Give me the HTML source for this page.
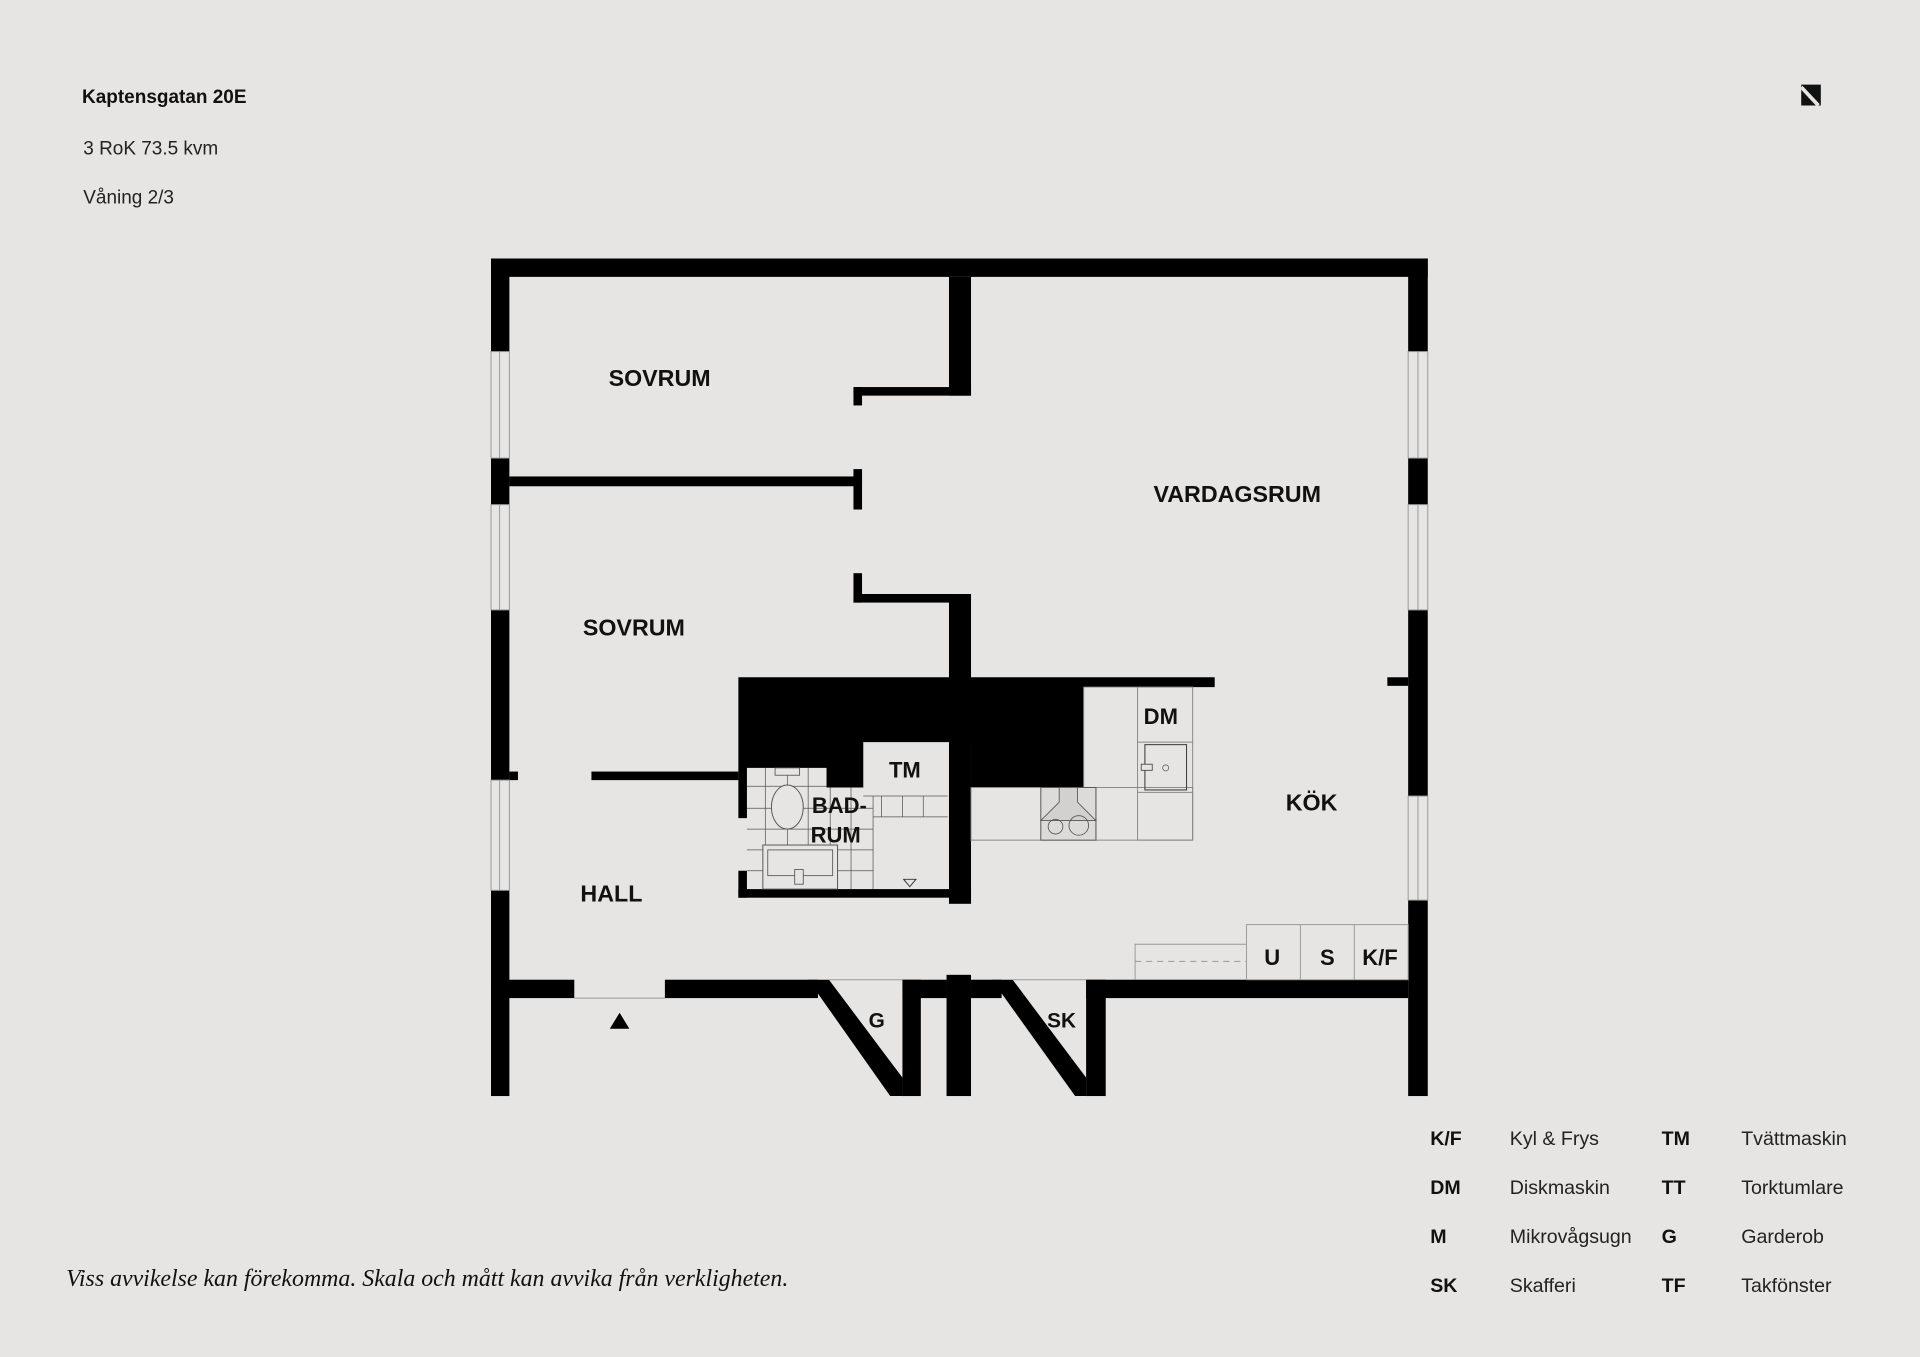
<!DOCTYPE html>
<html><head><meta charset="utf-8">
<style>
html,body{margin:0;padding:0;background:#e6e5e3;}
svg{display:block;}
.h{font-family:"Liberation Sans",sans-serif;font-weight:bold;fill:#111;}
.r{font-family:"Liberation Sans",sans-serif;fill:#222;}
</style></head>
<body>
<svg width="1920" height="1357" viewBox="0 0 1568 1108" xmlns="http://www.w3.org/2000/svg">
<rect width="1568" height="1108" fill="#e6e5e3"/>
<text x="67" y="84" class="h" font-size="15.5">Kaptensgatan 20E</text>
<text x="68" y="126" class="r" font-size="15.5">3 RoK 73.5 kvm</text>
<text x="68" y="166" class="r" font-size="15.5">Våning 2/3</text>
<!-- logo -->
<polygon points="1471,69 1487,69 1487,86" fill="#111"/>
<polygon points="1471,69 1471,86 1487,86" fill="#111"/>
<line x1="1471" y1="71" x2="1485" y2="86" stroke="#e6e5e3" stroke-width="3"/>

<g fill="#000">
<!-- outer walls -->
<rect x="401" y="211" width="765" height="15"/>
<rect x="401" y="211" width="15" height="684"/>
<rect x="1150" y="211" width="16" height="684"/>
<!-- bottom wall segments -->
<rect x="401" y="800" width="68" height="15"/>
<rect x="543" y="800" width="125" height="15"/>
<rect x="737" y="800" width="36" height="15"/>
<rect x="773" y="796" width="20" height="99"/>
<rect x="793" y="800" width="25" height="15"/>
<rect x="887" y="800" width="263" height="15"/>
<polygon points="660,800 677,800 737,880 737,895 727,895"/>
<rect x="737" y="800" width="15" height="95"/>
<polygon points="810,800 827,800 887,880 887,895 878,895"/>
<rect x="887" y="800" width="16" height="95"/>
<!-- inner walls -->
<rect x="775" y="226" width="18" height="97"/>
<rect x="697" y="316" width="96" height="7"/>
<rect x="697" y="316" width="7" height="15"/>
<rect x="416" y="389" width="288" height="8"/>
<rect x="697" y="383" width="7" height="33"/>
<rect x="697" y="468" width="7" height="24"/>
<rect x="697" y="485" width="96" height="7"/>
<rect x="775" y="485" width="18" height="253"/>
<rect x="416" y="630" width="7" height="7"/>
<rect x="483" y="630" width="120" height="7"/>
<rect x="1133" y="553" width="17" height="7"/>
<!-- black mass -->
<polygon points="603,553 992,553 992,561 885,561 885,643 793,643 793,606 705,606 705,643 675,643 675,627 610,627 610,668 603,668"/>
<rect x="603" y="711" width="7" height="22"/>
<rect x="603" y="726" width="190" height="7"/>
</g>
<!-- windows -->
<g fill="#e6e5e3" stroke="#999" stroke-width="0.8">
<rect x="401" y="287" width="15" height="87"/><rect x="401" y="412" width="15" height="86"/><rect x="401" y="637" width="15" height="90"/>
<rect x="1150" y="287" width="16" height="87"/><rect x="1150" y="412" width="16" height="86"/><rect x="1150" y="650" width="16" height="85"/>
</g>
<g stroke="#999" stroke-width="0.8">
<line x1="408" y1="287" x2="408" y2="374"/><line x1="408" y1="412" x2="408" y2="498"/><line x1="408" y1="637" x2="408" y2="727"/>
<line x1="1158" y1="287" x2="1158" y2="374"/><line x1="1158" y1="412" x2="1158" y2="498"/><line x1="1158" y1="650" x2="1158" y2="735"/>
<line x1="469" y1="815" x2="543" y2="815"/>
<line x1="677" y1="800" x2="737" y2="800"/><line x1="827" y1="800" x2="887" y2="800"/>
</g>
<!-- bathroom tiles -->
<g stroke="#555" stroke-width="0.6" fill="none">
<line x1="610" y1="642" x2="675" y2="642"/><line x1="610" y1="660" x2="713" y2="660"/><line x1="610" y1="677" x2="713" y2="677"/><line x1="610" y1="694" x2="713" y2="694"/><line x1="610" y1="711" x2="713" y2="711"/>
<line x1="625" y1="627" x2="625" y2="726"/><line x1="643" y1="627" x2="643" y2="726"/><line x1="660" y1="627" x2="660" y2="726"/><line x1="678" y1="643" x2="678" y2="726"/><line x1="695" y1="643" x2="695" y2="726"/>
<line x1="705" y1="650" x2="774" y2="650"/><line x1="713" y1="667" x2="774" y2="667"/><line x1="713" y1="650" x2="713" y2="726"/>
<line x1="720" y1="650" x2="720" y2="667"/><line x1="737" y1="650" x2="737" y2="667"/><line x1="754" y1="650" x2="754" y2="667"/>
</g>
<rect x="633" y="627" width="20" height="6" fill="#e6e5e3" stroke="#555" stroke-width="0.7"/>
<ellipse cx="643" cy="659" rx="13" ry="18" fill="#e6e5e3" stroke="#555" stroke-width="0.8"/>
<rect x="623" y="690" width="61" height="36" fill="#e6e5e3" stroke="#555" stroke-width="0.8"/>
<rect x="627" y="694" width="53" height="21" fill="none" stroke="#555" stroke-width="0.7"/>
<rect x="649" y="710" width="7" height="12" fill="#e6e5e3" stroke="#555" stroke-width="0.7"/>
<polygon points="738,718 748,718 743,724" fill="none" stroke="#333" stroke-width="0.8"/>
<text x="663" y="664" class="h" font-size="18">BAD-</text>
<text x="662" y="688" class="h" font-size="18">RUM</text>
<text x="726" y="635" class="h" font-size="18">TM</text>
<!-- kitchen -->
<g fill="none" stroke="#888" stroke-width="0.8">
<rect x="793" y="643" width="181" height="43"/>
<rect x="929" y="561" width="45" height="125"/>
<line x1="929" y1="606" x2="974" y2="606"/><line x1="929" y1="647" x2="974" y2="647"/>
<line x1="885" y1="561" x2="885" y2="643"/><line x1="885" y1="561" x2="929" y2="561"/>
<line x1="895" y1="643" x2="895" y2="686"/>
</g>
<rect x="850" y="643" width="45" height="43" fill="#dcdbd9" stroke="#555" stroke-width="0.8"/>
<polygon points="850,670 895,670 880,655 880,643 865,643 865,655" fill="#d2d1cf" stroke="#555" stroke-width="0.7"/>
<circle cx="862" cy="675" r="6" fill="none" stroke="#555" stroke-width="0.7"/>
<circle cx="881" cy="674" r="8" fill="none" stroke="#555" stroke-width="0.7"/>
<rect x="935" y="608" width="34" height="37" fill="none" stroke="#444" stroke-width="0.9"/>
<rect x="932" y="624" width="9" height="5" fill="#e6e5e3" stroke="#444" stroke-width="0.7"/>
<circle cx="952" cy="627" r="2.5" fill="none" stroke="#555" stroke-width="0.6"/>
<text x="934" y="591" class="h" font-size="18">DM</text>
<!-- tall cabinets -->
<g fill="none" stroke="#999" stroke-width="0.8">
<rect x="1018" y="755" width="132" height="45"/>
<line x1="1062" y1="755" x2="1062" y2="800"/><line x1="1106" y1="755" x2="1106" y2="800"/>
<polyline points="927,800 927,771 1018,771"/>
<line x1="927" y1="785" x2="1018" y2="785" stroke-dasharray="5,4"/>
</g>
<text x="1039" y="788" class="h" font-size="18" text-anchor="middle">U</text>
<text x="1084" y="788" class="h" font-size="18" text-anchor="middle">S</text>
<text x="1127" y="788" class="h" font-size="18" text-anchor="middle">K/F</text>
<text x="716" y="839" class="h" font-size="17" text-anchor="middle">G</text>
<text x="867" y="839" class="h" font-size="17" text-anchor="middle">SK</text>
<polygon points="506,827 514,840 498,840" fill="#000"/>
<!-- room labels -->
<text x="497" y="315" class="h" font-size="19">SOVRUM</text>
<text x="476" y="519" class="h" font-size="19">SOVRUM</text>
<text x="942" y="410" class="h" font-size="19">VARDAGSRUM</text>
<text x="1050" y="662" class="h" font-size="19">KÖK</text>
<text x="474" y="736" class="h" font-size="19">HALL</text>
<!-- footer -->
<text x="54" y="1050" font-family="Liberation Serif,serif" font-style="italic" font-size="19.5" fill="#111">Viss avvikelse kan förekomma. Skala och mått kan avvika från verkligheten.</text>
<g font-size="16">
<text x="1168" y="935" class="h">K/F</text><text x="1233" y="935" class="r">Kyl &amp; Frys</text>
<text x="1357" y="935" class="h">TM</text><text x="1422" y="935" class="r">Tvättmaskin</text>
<text x="1168" y="975" class="h">DM</text><text x="1233" y="975" class="r">Diskmaskin</text>
<text x="1357" y="975" class="h">TT</text><text x="1422" y="975" class="r">Torktumlare</text>
<text x="1168" y="1015" class="h">M</text><text x="1233" y="1015" class="r">Mikrovågsugn</text>
<text x="1357" y="1015" class="h">G</text><text x="1422" y="1015" class="r">Garderob</text>
<text x="1168" y="1055" class="h">SK</text><text x="1233" y="1055" class="r">Skafferi</text>
<text x="1357" y="1055" class="h">TF</text><text x="1422" y="1055" class="r">Takfönster</text>
</g>
</svg>
</body></html>
